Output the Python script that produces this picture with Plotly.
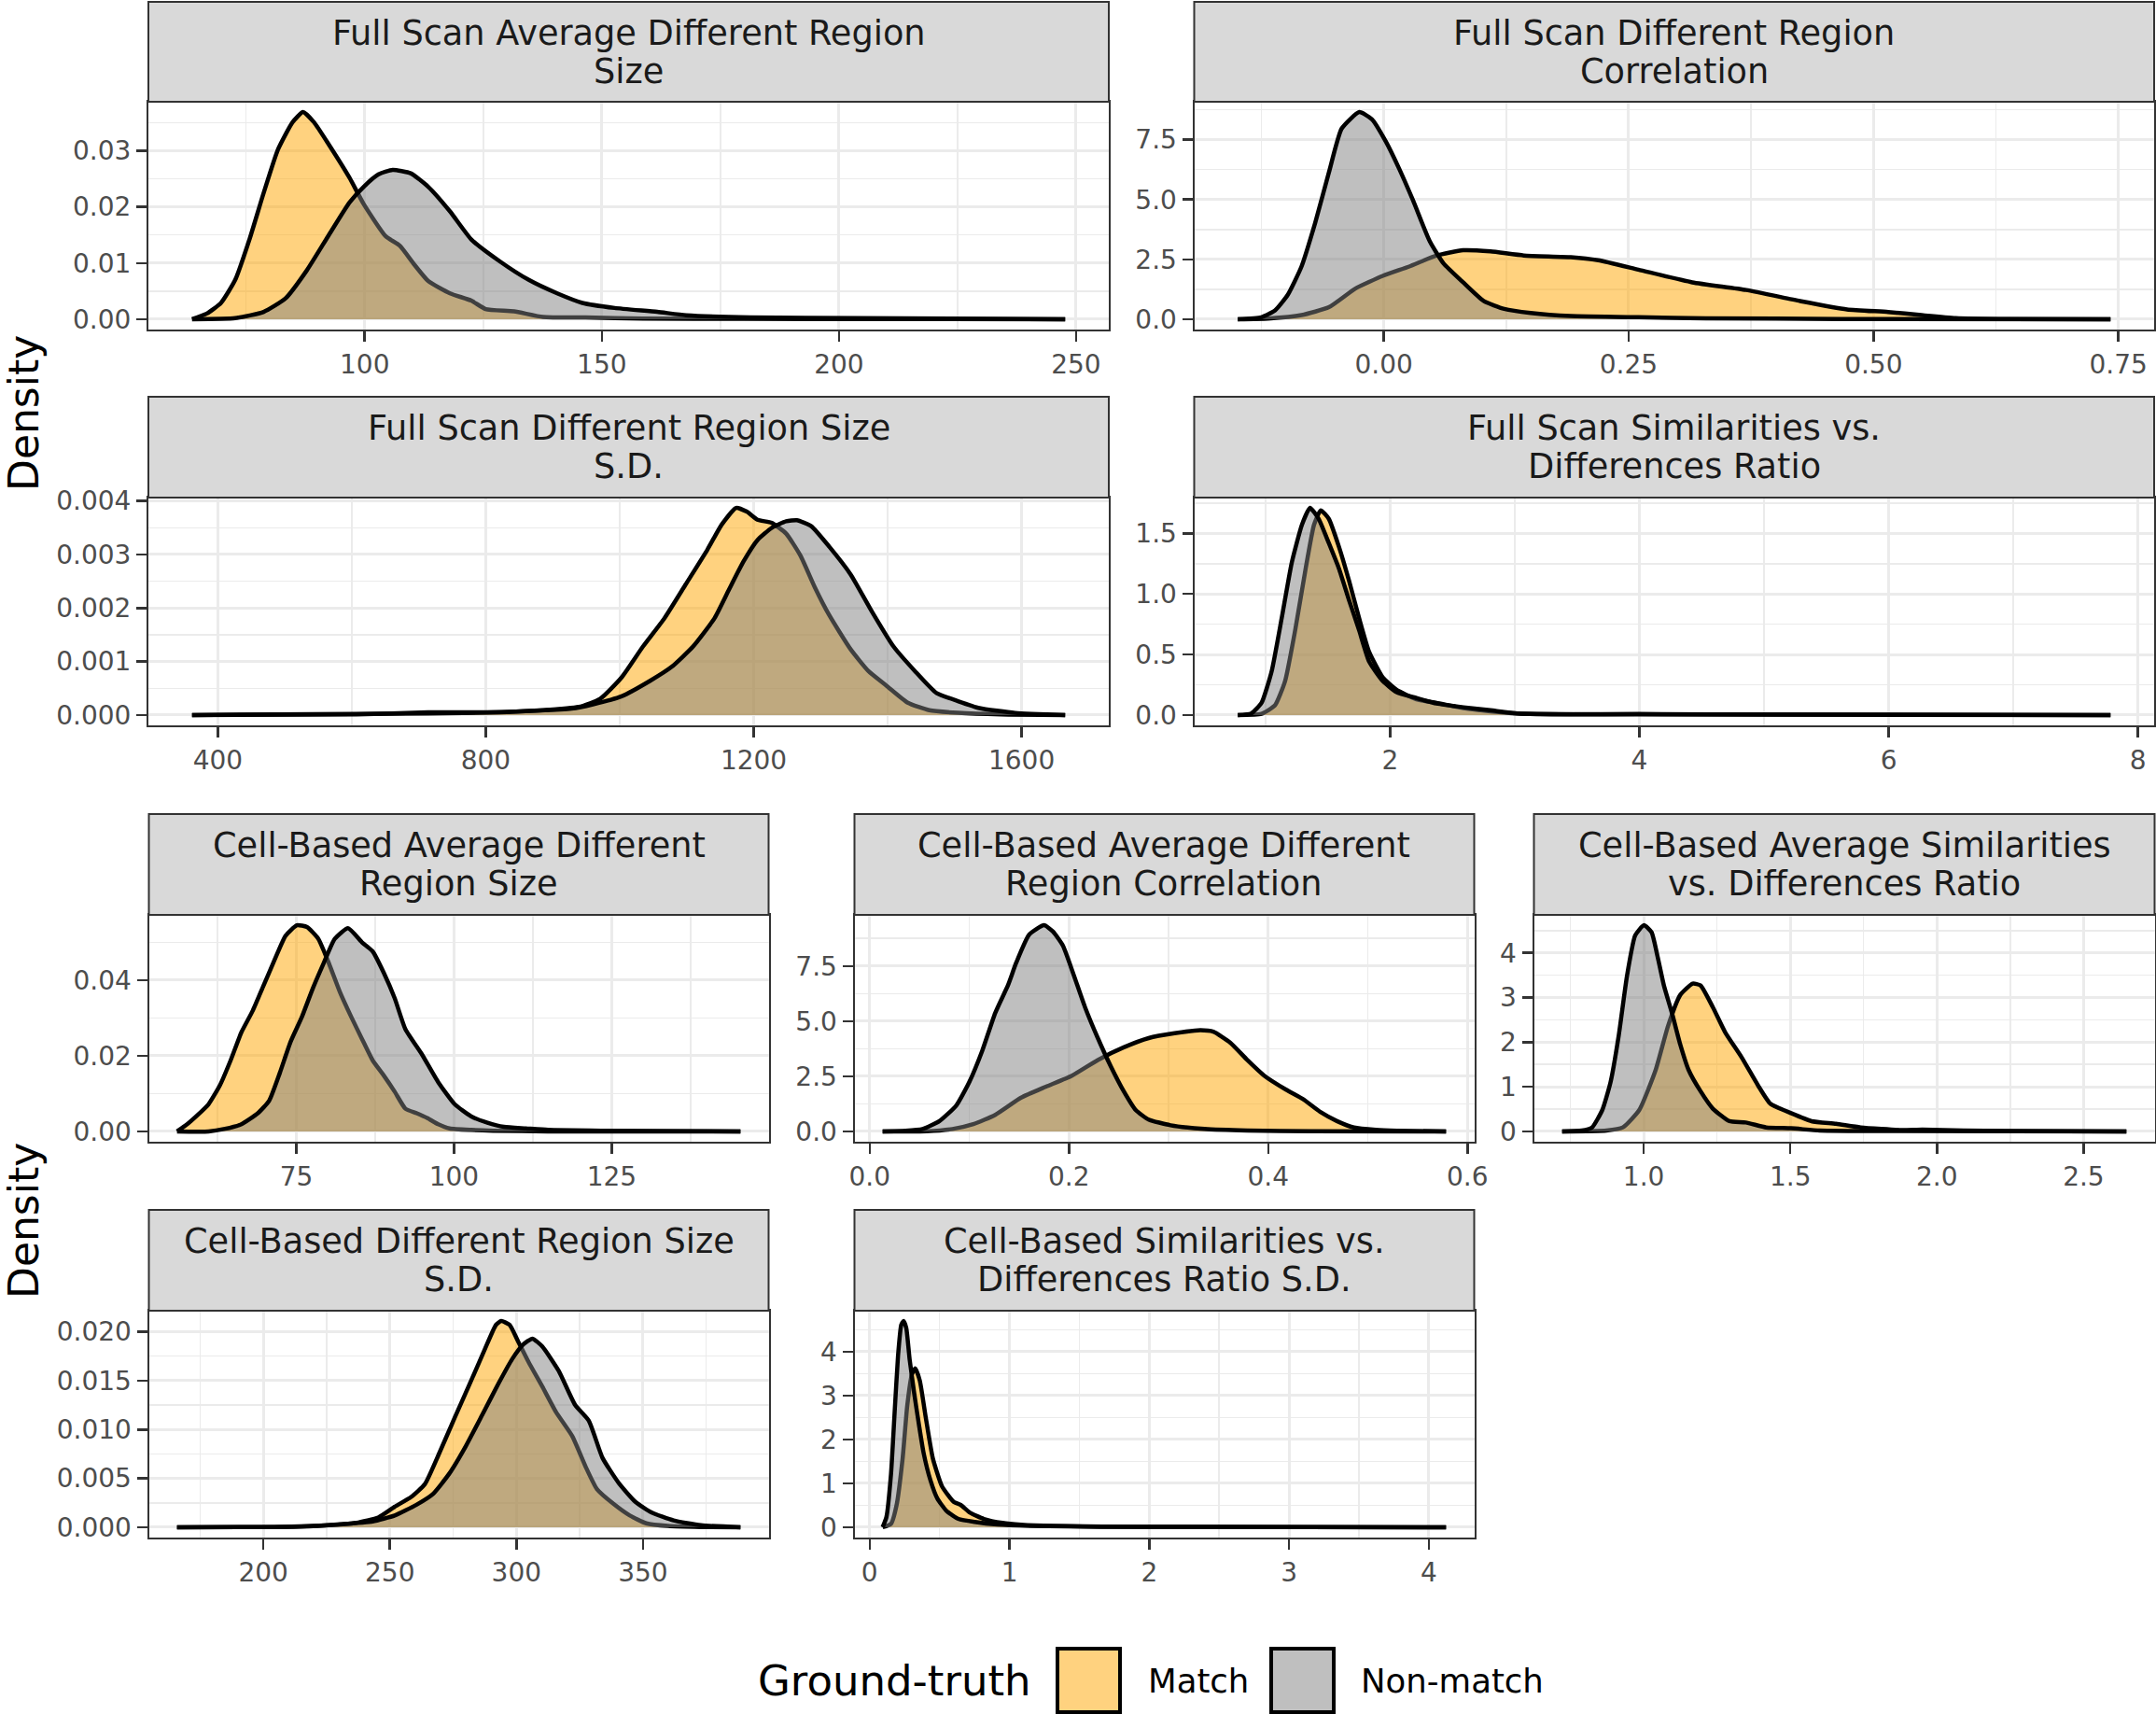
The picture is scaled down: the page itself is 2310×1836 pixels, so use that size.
import plotly.graph_objects as go

W, H = 2310, 1836

# ---------------- data ----------------
# Panel 1: Full Scan Average Different Region Size
p1_match_x = [63.6, 66.7, 69.7, 72.7, 75.7, 78.7, 81.7, 84.8, 87.0, 89.3, 92.3, 96.8, 99.8, 104.4, 107.4, 110.4, 113.4, 118.0, 122.5, 125.5, 131.5, 137.6, 146.6, 158.7, 180.0, 210.0, 247.7]
p1_match_y = [0.0, 0.001, 0.0029, 0.007, 0.0142, 0.0225, 0.0302, 0.0351, 0.0369, 0.0351, 0.0313, 0.0252, 0.0205, 0.0148, 0.0131, 0.0098, 0.0068, 0.0046, 0.0033, 0.0018, 0.0014, 0.0004, 0.0003, 0.0001, 0.00005, 0.00002, 0.0]
p1_non_x = [63.6, 72.7, 78.7, 83.3, 87.8, 92.3, 96.8, 99.8, 102.9, 105.9, 109.7, 113.4, 118.0, 122.5, 128.5, 134.6, 140.6, 145.9, 152.7, 161.7, 167.8, 181.3, 204.0, 247.7]
p1_non_y = [0.0, 0.0002, 0.0013, 0.0037, 0.0087, 0.0148, 0.0208, 0.0236, 0.0258, 0.0266, 0.026, 0.0236, 0.0192, 0.0142, 0.0103, 0.007, 0.0046, 0.0029, 0.002, 0.0013, 0.0007, 0.0003, 0.0002, 0.0]

# Panel 2: Full Scan Different Region Correlation
p2_match_x = [-0.149, -0.118, -0.084, -0.056, -0.029, -0.001, 0.026, 0.054, 0.081, 0.109, 0.143, 0.191, 0.219, 0.260, 0.315, 0.370, 0.425, 0.473, 0.515, 0.549, 0.584, 0.639, 0.742]
p2_match_y = [0.0, 0.03, 0.17, 0.5, 1.28, 1.81, 2.2, 2.66, 2.88, 2.83, 2.66, 2.59, 2.46, 2.07, 1.54, 1.22, 0.76, 0.41, 0.30, 0.17, 0.05, 0.01, 0.0]
p2_non_x = [-0.149, -0.125, -0.111, -0.098, -0.084, -0.070, -0.056, -0.043, -0.025, -0.012, 0.002, 0.016, 0.030, 0.047, 0.061, 0.081, 0.102, 0.123, 0.150, 0.191, 0.26, 0.329, 0.467, 0.742]
p2_non_y = [0.0, 0.08, 0.37, 1.02, 2.2, 4.03, 6.13, 7.96, 8.65, 8.35, 7.43, 6.26, 4.95, 3.25, 2.33, 1.54, 0.76, 0.43, 0.26, 0.13, 0.08, 0.04, 0.01, 0.0]

# Panel 3: Full Scan Different Region Size S.D.
p3_match_x = [361.5, 607, 714, 800, 885, 938.6, 970.6, 1002.7, 1034.7, 1066.8, 1098.9, 1130.9, 1152.3, 1173.7, 1189.7, 1205.7, 1227.1, 1248.5, 1269.8, 1291.2, 1312.6, 1344.6, 1371.4, 1398.1, 1430.1, 1462.2, 1504.9, 1569, 1665]
p3_match_y = [0.0, 0.00001, 0.00005, 0.00005, 0.00009, 0.00015, 0.0003, 0.0007, 0.00128, 0.00181, 0.00245, 0.00309, 0.00356, 0.00387, 0.0038, 0.00365, 0.00359, 0.00339, 0.00298, 0.00239, 0.00187, 0.00123, 0.00082, 0.00055, 0.00023, 0.00009, 0.00004, 0.00001, 0.0]
p3_non_x = [361.5, 714, 821, 928, 960, 1002.7, 1045.4, 1077.5, 1109.5, 1141.6, 1163, 1184.4, 1205.7, 1227.1, 1248.5, 1264.5, 1285.9, 1312.6, 1344.6, 1376.7, 1408.8, 1440.8, 1472.9, 1505, 1537, 1590.4, 1665]
p3_non_y = [0.0, 0.00003, 0.00005, 0.00012, 0.0002, 0.00035, 0.00064, 0.0009, 0.00128, 0.00181, 0.00234, 0.00286, 0.00327, 0.0035, 0.00362, 0.00364, 0.00353, 0.00315, 0.00263, 0.00193, 0.00128, 0.00082, 0.00041, 0.00026, 0.00013, 0.00004, 0.0]

# Panel 4: Full Scan Similarities vs. Differences Ratio
p4_match_x = [0.778, 0.968, 1.076, 1.157, 1.238, 1.319, 1.389, 1.443, 1.508, 1.589, 1.670, 1.751, 1.832, 1.941, 2.049, 2.211, 2.373, 2.589, 2.805, 3.022, 3.99, 7.78]
p4_match_y = [0.0, 0.01, 0.08, 0.28, 0.70, 1.19, 1.57, 1.69, 1.62, 1.39, 1.11, 0.80, 0.52, 0.31, 0.21, 0.13, 0.10, 0.057, 0.031, 0.013, 0.005, 0.0]
p4_non_x = [0.778, 0.886, 0.968, 1.049, 1.130, 1.211, 1.292, 1.357, 1.427, 1.508, 1.589, 1.670, 1.751, 1.832, 1.941, 2.049, 2.211, 2.373, 2.589, 2.805, 3.022, 3.45, 3.99, 5.08, 7.78]
p4_non_y = [0.0, 0.013, 0.10, 0.36, 0.80, 1.26, 1.57, 1.71, 1.62, 1.42, 1.21, 0.95, 0.70, 0.44, 0.28, 0.19, 0.14, 0.095, 0.064, 0.039, 0.013, 0.005, 0.008, 0.003, 0.0]

# Panel 5: Cell-Based Average Different Region Size
p5_match_x = [56.1, 57.7, 59.4, 61.1, 62.9, 64.6, 66.3, 68.1, 69.8, 71.5, 73.3, 75.1, 76.7, 78.5, 80.2, 81.9, 83.7, 85.4, 87.1, 88.9, 90.6, 92.3, 94.1, 95.8, 97.5, 99.3, 102.7, 106.2, 114.9, 145.4]
p5_match_y = [0.0, 0.0019, 0.0044, 0.0072, 0.0122, 0.0188, 0.0262, 0.0319, 0.0385, 0.0451, 0.0517, 0.0545, 0.0540, 0.0509, 0.0443, 0.0369, 0.0303, 0.0245, 0.0188, 0.0147, 0.0105, 0.006, 0.0048, 0.0035, 0.0019, 0.0008, 0.0004, 0.0002, 0.0, 0.0]
p5_non_x = [56.1, 61.1, 63.7, 66.3, 68.9, 70.7, 72.4, 74.1, 75.9, 77.6, 79.3, 81.1, 83.2, 85.4, 87.1, 88.9, 90.6, 92.3, 94.9, 97.5, 100.1, 102.7, 105.3, 107.9, 111.4, 114.9, 123.5, 145.4]
p5_non_y = [0.0, 0.0, 0.0007, 0.0019, 0.0048, 0.0081, 0.0155, 0.0237, 0.0303, 0.0377, 0.0443, 0.0509, 0.0537, 0.05, 0.0476, 0.0418, 0.0352, 0.027, 0.0204, 0.013, 0.0072, 0.004, 0.0023, 0.0012, 0.0008, 0.0004, 0.0002, 0.0]

# Panel 6: Cell-Based Average Different Region Correlation
p6_match_x = [0.013, 0.057, 0.083, 0.104, 0.126, 0.152, 0.177, 0.203, 0.229, 0.255, 0.280, 0.306, 0.332, 0.345, 0.362, 0.379, 0.396, 0.418, 0.435, 0.452, 0.469, 0.486, 0.508, 0.529, 0.5785]
p6_match_y = [0.0, 0.01, 0.11, 0.33, 0.75, 1.53, 2.03, 2.53, 3.24, 3.81, 4.23, 4.45, 4.59, 4.52, 4.02, 3.24, 2.53, 1.89, 1.46, 0.89, 0.47, 0.18, 0.07, 0.03, 0.0]
p6_non_x = [0.013, 0.036, 0.053, 0.070, 0.087, 0.100, 0.113, 0.126, 0.139, 0.147, 0.160, 0.175, 0.184, 0.194, 0.205, 0.216, 0.229, 0.242, 0.255, 0.267, 0.280, 0.302, 0.336, 0.379, 0.443, 0.5785]
p6_non_y = [0.0, 0.03, 0.11, 0.47, 1.18, 2.24, 3.66, 5.37, 6.65, 7.64, 8.92, 9.35, 9.06, 8.42, 7.07, 5.65, 4.23, 2.95, 1.82, 0.97, 0.54, 0.28, 0.11, 0.04, 0.01, 0.0]

# Panel 7: Cell-Based Average Similarities vs. Differences Ratio
p7_match_x = [0.722, 0.873, 0.929, 0.985, 1.041, 1.083, 1.125, 1.167, 1.194, 1.236, 1.278, 1.334, 1.390, 1.432, 1.502, 1.572, 1.656, 1.740, 1.880, 1.950, 2.090, 2.230, 2.646]
p7_match_y = [0.0, 0.02, 0.09, 0.48, 1.38, 2.36, 3.06, 3.31, 3.27, 2.78, 2.22, 1.66, 1.03, 0.62, 0.41, 0.23, 0.17, 0.09, 0.03, 0.04, 0.02, 0.01, 0.0]
p7_non_x = [0.722, 0.789, 0.824, 0.859, 0.887, 0.915, 0.943, 0.971, 1.001, 1.027, 1.048, 1.069, 1.097, 1.125, 1.153, 1.194, 1.236, 1.292, 1.348, 1.418, 1.502, 1.600, 1.740, 2.646]
p7_non_y = [0.0, 0.02, 0.09, 0.48, 1.10, 2.15, 3.48, 4.39, 4.62, 4.46, 3.90, 3.27, 2.64, 1.94, 1.38, 0.90, 0.51, 0.23, 0.20, 0.09, 0.07, 0.02, 0.01, 0.0]

# Panel 8: Cell-Based Different Region Size S.D.
p8_match_x = [165.9, 204.3, 225.9, 236.7, 245.4, 251.9, 258.4, 263.8, 269.2, 275.6, 282.1, 287.5, 291.9, 294.0, 297.3, 300.5, 304.8, 310.2, 315.6, 322.1, 327.5, 331.8, 338.3, 344.8, 351.3, 359.9, 372.9, 388.5]
p8_match_y = [0.0, 0.00003, 0.0002, 0.00045, 0.001, 0.0021, 0.0031, 0.0044, 0.0074, 0.0112, 0.015, 0.0182, 0.0207, 0.0211, 0.0207, 0.0191, 0.0169, 0.0144, 0.0118, 0.0093, 0.0061, 0.0039, 0.0024, 0.0012, 0.0004, 0.00013, 0.00003, 0.0]
p8_non_x = [165.9, 215.1, 230.3, 243.2, 251.9, 260.5, 267.0, 273.5, 280.0, 286.5, 292.9, 298.3, 302.7, 306.3, 310.2, 316.7, 323.2, 328.6, 334.0, 340.5, 347.0, 353.5, 362.1, 372.9, 388.5]
p8_non_y = [0.0, 0.00006, 0.0003, 0.0006, 0.0012, 0.0023, 0.0034, 0.0055, 0.0083, 0.0115, 0.0147, 0.0172, 0.0187, 0.0193, 0.0185, 0.016, 0.0125, 0.0109, 0.0071, 0.0045, 0.0026, 0.0015, 0.0007, 0.0002, 0.0]

# Panel 9: Cell-Based Similarities vs. Differences Ratio S.D.
p9_match_x = [0.093, 0.153, 0.193, 0.236, 0.269, 0.302, 0.326, 0.359, 0.402, 0.452, 0.518, 0.601, 0.651, 0.718, 0.817, 0.950, 1.083, 1.316, 1.980, 4.123]
p9_match_y = [0.0, 0.08, 0.51, 1.57, 2.77, 3.48, 3.62, 3.34, 2.49, 1.57, 0.93, 0.58, 0.51, 0.33, 0.19, 0.10, 0.06, 0.03, 0.01, 0.0]
p9_non_x = [0.093, 0.120, 0.153, 0.179, 0.203, 0.226, 0.243, 0.262, 0.286, 0.319, 0.352, 0.385, 0.435, 0.485, 0.551, 0.635, 0.751, 0.917, 1.150, 1.648, 4.123]
p9_non_y = [0.0, 0.23, 1.22, 2.63, 3.90, 4.61, 4.70, 4.54, 3.83, 3.05, 2.35, 1.71, 1.07, 0.65, 0.37, 0.19, 0.12, 0.06, 0.03, 0.01, 0.0]

# tick values / labels
p1_xt = [100, 150, 200, 250];        p1_xl = ["100", "150", "200", "250"]
p1_yt = [0, 0.01, 0.02, 0.03];       p1_yl = ["0.00", "0.01", "0.02", "0.03"]
p2_xt = [0, 0.25, 0.5, 0.75];        p2_xl = ["0.00", "0.25", "0.50", "0.75"]
p2_yt = [0, 2.5, 5, 7.5];            p2_yl = ["0.0", "2.5", "5.0", "7.5"]
p3_xt = [400, 800, 1200, 1600];      p3_xl = ["400", "800", "1200", "1600"]
p3_yt = [0, 0.001, 0.002, 0.003, 0.004]; p3_yl = ["0.000", "0.001", "0.002", "0.003", "0.004"]
p4_xt = [2, 4, 6, 8];                p4_xl = ["2", "4", "6", "8"]
p4_yt = [0, 0.5, 1.0, 1.5];          p4_yl = ["0.0", "0.5", "1.0", "1.5"]
p5_xt = [75, 100, 125];              p5_xl = ["75", "100", "125"]
p5_yt = [0, 0.02, 0.04];             p5_yl = ["0.00", "0.02", "0.04"]
p6_xt = [0, 0.2, 0.4, 0.6];          p6_xl = ["0.0", "0.2", "0.4", "0.6"]
p6_yt = [0, 2.5, 5, 7.5];            p6_yl = ["0.0", "2.5", "5.0", "7.5"]
p7_xt = [1.0, 1.5, 2.0, 2.5];        p7_xl = ["1.0", "1.5", "2.0", "2.5"]
p7_yt = [0, 1, 2, 3, 4];             p7_yl = ["0", "1", "2", "3", "4"]
p8_xt = [200, 250, 300, 350];        p8_xl = ["200", "250", "300", "350"]
p8_yt = [0, 0.005, 0.01, 0.015, 0.02]; p8_yl = ["0.000", "0.005", "0.010", "0.015", "0.020"]
p9_xt = [0, 1, 2, 3, 4];             p9_xl = ["0", "1", "2", "3", "4"]
p9_yt = [0, 1, 2, 3, 4];             p9_yl = ["0", "1", "2", "3", "4"]

titles = [
    ("Full Scan Average Different Region", "Size"),
    ("Full Scan Different Region", "Correlation"),
    ("Full Scan Different Region Size", "S.D."),
    ("Full Scan Similarities vs.", "Differences Ratio"),
    ("Cell-Based Average Different", "Region Size"),
    ("Cell-Based Average Different", "Region Correlation"),
    ("Cell-Based Average Similarities", "vs. Differences Ratio"),
    ("Cell-Based Different Region Size", "S.D."),
    ("Cell-Based Similarities vs.", "Differences Ratio S.D."),
]
legend_title = "Ground-truth"
groups = ["Match", "Non-match"]
y_title = "Density"

# ---------------- layout geometry (pixels) ----------------
top_cols = [(159, 1188), (1279.5, 2308)]
bot_cols = [(159.5, 823.5), (915.5, 1579.5), (1643.5, 2308.5)]
rows = [(2, 109, 353), (425, 533, 777), (872, 980, 1223), (1296, 1404, 1647)]  # strip top, plot top, plot bottom

boxes = [
    (top_cols[0], rows[0]), (top_cols[1], rows[0]),
    (top_cols[0], rows[1]), (top_cols[1], rows[1]),
    (bot_cols[0], rows[2]), (bot_cols[1], rows[2]), (bot_cols[2], rows[2]),
    (bot_cols[0], rows[3]), (bot_cols[1], rows[3]),
]

data = [
    (p1_match_x, p1_match_y, p1_non_x, p1_non_y, p1_xt, p1_xl, p1_yt, p1_yl),
    (p2_match_x, p2_match_y, p2_non_x, p2_non_y, p2_xt, p2_xl, p2_yt, p2_yl),
    (p3_match_x, p3_match_y, p3_non_x, p3_non_y, p3_xt, p3_xl, p3_yt, p3_yl),
    (p4_match_x, p4_match_y, p4_non_x, p4_non_y, p4_xt, p4_xl, p4_yt, p4_yl),
    (p5_match_x, p5_match_y, p5_non_x, p5_non_y, p5_xt, p5_xl, p5_yt, p5_yl),
    (p6_match_x, p6_match_y, p6_non_x, p6_non_y, p6_xt, p6_xl, p6_yt, p6_yl),
    (p7_match_x, p7_match_y, p7_non_x, p7_non_y, p7_xt, p7_xl, p7_yt, p7_yl),
    (p8_match_x, p8_match_y, p8_non_x, p8_non_y, p8_xt, p8_xl, p8_yt, p8_yl),
    (p9_match_x, p9_match_y, p9_non_x, p9_non_y, p9_xt, p9_xl, p9_yt, p9_yl),
]

MATCH_FILL = "rgba(255,165,0,0.5)"
NON_FILL = "rgba(127,127,127,0.5)"
FONT = "DejaVu Sans"
GRID = "#EBEBEB"
DARK = "#333333"


def px(x):
    return x / W


def py(y):
    return 1 - y / H


fig = go.Figure()
shapes = []
annotations = []
layout_axes = {}

for i, ((xc, rw), d, ttl) in enumerate(zip(boxes, data, titles), start=1):
    mx, my, nx, ny, xt, xl, yt, yl = d
    xa = "x" if i == 1 else f"x{i}"
    ya = "y" if i == 1 else f"y{i}"
    for xs, ys, fillc, name in ((mx, my, MATCH_FILL, groups[0]), (nx, ny, NON_FILL, groups[1])):
        fig.add_trace(go.Scatter(
            x=xs, y=ys, mode="lines", fill="tozeroy", fillcolor=fillc,
            line=dict(color="black", width=4.5, shape="spline", smoothing=0.5),
            xaxis=xa, yaxis=ya, showlegend=False, name=name, hoverinfo="skip"))
    allx = mx + nx
    xmin, xmax = min(allx), max(allx)
    xr = xmax - xmin
    ymax = max(my + ny)
    x0, x1 = xc
    st, pt, pb = rw
    xstep = xt[1] - xt[0]
    ystep = yt[1] - yt[0]
    common = dict(
        showline=True, linecolor=DARK, linewidth=2, mirror=True,
        ticks="outside", ticklen=11, tickwidth=2.5, tickcolor=DARK,
        showgrid=True, gridcolor=GRID, gridwidth=3, zeroline=False,
        tickfont=dict(family=FONT, size=28, color="#4D4D4D"),
        tickmode="array", fixedrange=True, automargin=False,
    )
    layout_axes["xaxis" if i == 1 else f"xaxis{i}"] = dict(
        common, domain=[px(x0), px(x1)], anchor=ya,
        range=[xmin - 0.05 * xr, xmax + 0.05 * xr],
        tickvals=xt, ticktext=xl,
        minor=dict(tickmode="linear", tick0=xt[0] + xstep / 2, dtick=xstep,
                   showgrid=True, gridcolor=GRID, gridwidth=1.5, ticks=""),
    )
    layout_axes["yaxis" if i == 1 else f"yaxis{i}"] = dict(
        common, domain=[py(pb), py(pt)], anchor=xa,
        range=[-0.05 * ymax, 1.05 * ymax],
        tickvals=yt, ticktext=yl,
        minor=dict(tickmode="linear", tick0=yt[0] + ystep / 2, dtick=ystep,
                   showgrid=True, gridcolor=GRID, gridwidth=1.5, ticks=""),
    )
    # strip
    shapes.append(dict(type="rect", xref="paper", yref="paper",
                       x0=px(x0), x1=px(x1), y0=py(pt), y1=py(st),
                       fillcolor="#D9D9D9", line=dict(color=DARK, width=2)))
    cy = (st + pt) / 2
    for k, line in enumerate(ttl):
        annotations.append(dict(
            xref="paper", yref="paper", x=px((x0 + x1) / 2), y=py(cy + (-20.5 if k == 0 else 20.5)),
            text=line, showarrow=False, xanchor="center", yanchor="middle",
            font=dict(family=FONT, size=36.7, color="#1A1A1A")))

# y titles
for cy in (443, 1308):
    annotations.append(dict(xref="paper", yref="paper", x=px(25), y=py(cy), text=y_title,
                            textangle=-90, showarrow=False, xanchor="center", yanchor="middle",
                            font=dict(family=FONT, size=44, color="black")))

# legend (drawn manually)
annotations.append(dict(xref="paper", yref="paper", x=px(958), y=py(1800), text=legend_title,
                        showarrow=False, xanchor="center", yanchor="middle",
                        font=dict(family=FONT, size=45, color="black")))
leg_items = [(groups[0], MATCH_FILL, 1133, 1228), (groups[1], NON_FILL, 1362, 1456)]
for name, fc, kx, tx in leg_items:
    shapes.append(dict(type="rect", xref="paper", yref="paper",
                       x0=px(kx), x1=px(kx + 67), y0=py(1834), y1=py(1766),
                       fillcolor=fc, line=dict(color="black", width=4)))
    annotations.append(dict(xref="paper", yref="paper", x=px(tx), y=py(1800), text=name,
                            showarrow=False, xanchor="left", yanchor="middle",
                            font=dict(family=FONT, size=35.5, color="black")))

fig.update_layout(
    width=W, height=H, autosize=False,
    margin=dict(l=0, r=0, t=0, b=0, pad=0, autoexpand=False),
    paper_bgcolor="white", plot_bgcolor="white",
    shapes=shapes, annotations=annotations,
    showlegend=False,
    font=dict(family=FONT),
    **layout_axes,
)

fig.write_html("out.html", config={"displayModeBar": False, "staticPlot": True},
               post_script="document.body.style.margin='0px';document.body.style.overflow='hidden';")
